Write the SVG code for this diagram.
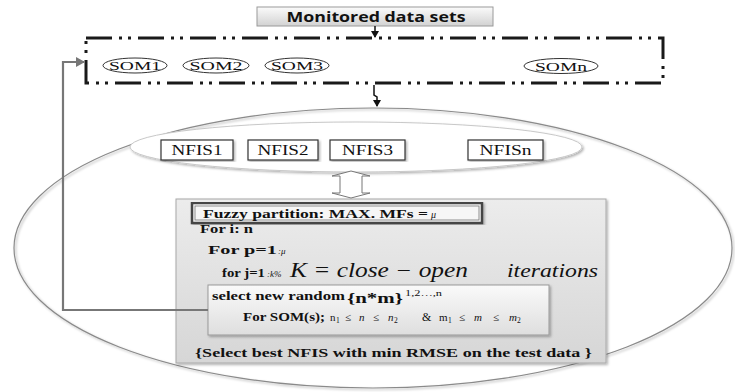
<svg xmlns="http://www.w3.org/2000/svg" width="735" height="392" viewBox="0 0 735 392">
<style>
.serif{fill:#111;font-family:'Liberation Serif','DejaVu Serif','Times New Roman',serif}
.b{font-weight:bold}
.it{font-style:italic}
.som{fill:#fff;stroke:#333;stroke-width:1}
.nfis{fill:#fff;stroke:#333;stroke-width:1.2}
.dash{fill:none;stroke:#1a1a1a;stroke-width:3;stroke-dasharray:26 7 3 6 3 7}
</style>
<defs>
<linearGradient id="gBox" x1="0" y1="0" x2="0" y2="1"><stop offset="0" stop-color="#fbfbfb"/><stop offset="1" stop-color="#d2d2d2"/></linearGradient>
<linearGradient id="gPanel" x1="0" y1="0" x2="0" y2="1"><stop offset="0" stop-color="#ececec"/><stop offset="1" stop-color="#d6d6d6"/></linearGradient>
<linearGradient id="gInner" x1="0" y1="0" x2="0" y2="1"><stop offset="0" stop-color="#fafafa"/><stop offset="1" stop-color="#dedede"/></linearGradient>
<filter id="sh" x="-5%" y="-5%" width="110%" height="115%"><feDropShadow dx="1.5" dy="1.5" stdDeviation="1.2" flood-color="#000" flood-opacity="0.3"/></filter>
<marker id="ah" markerWidth="8" markerHeight="8" refX="6" refY="4" orient="auto" markerUnits="userSpaceOnUse"><path d="M0,0 L7,4 L0,8 Z" fill="#111"/></marker>
<marker id="ahg" markerWidth="10" markerHeight="10" refX="8" refY="5" orient="auto" markerUnits="userSpaceOnUse"><path d="M0,0 L9,5 L0,10 Z" fill="#777"/></marker>
</defs>
<rect width="735" height="392" fill="#fff"/>

<g id="outer-ellipse"><ellipse cx="373" cy="248" rx="359" ry="140" fill="none" stroke="#8a8a8a" stroke-width="1.2" filter="url(#sh)"/></g>

<g id="monitored">
<rect x="257" y="7" width="236" height="19" fill="url(#gBox)" stroke="#9a9a9a" stroke-width="1"/>
<text x="376" y="21.5" text-anchor="middle" font-family="'Open Sans','Liberation Sans',sans-serif" font-weight="bold" font-size="13.5" fill="#111" textLength="179" lengthAdjust="spacingAndGlyphs">Monitored data sets</text>
</g>

<g id="som-box">
<rect x="86" y="38" width="577" height="45" class="dash"/>
</g>
<g id="som1"><ellipse cx="135" cy="65.5" rx="32" ry="7.5" class="som"/><text x="135" y="70" text-anchor="middle" class="serif" font-size="12" textLength="52" lengthAdjust="spacingAndGlyphs">SOM1</text></g>
<g id="som2"><ellipse cx="216" cy="65.5" rx="33" ry="7.5" class="som"/><text x="216" y="70" text-anchor="middle" class="serif" font-size="12" textLength="53" lengthAdjust="spacingAndGlyphs">SOM2</text></g>
<g id="som3"><ellipse cx="297" cy="65.5" rx="32" ry="7.5" class="som"/><text x="297" y="70" text-anchor="middle" class="serif" font-size="12" textLength="52" lengthAdjust="spacingAndGlyphs">SOM3</text></g>
<g id="somn"><ellipse cx="561" cy="66" rx="37" ry="7.5" class="som"/><text x="561" y="70.5" text-anchor="middle" class="serif" font-size="12" textLength="52" lengthAdjust="spacingAndGlyphs">SOMn</text></g>

<g id="nfis-area"><ellipse cx="356" cy="147" rx="226" ry="25" fill="#fff" stroke="#c8c8c8" stroke-width="1" filter="url(#sh)"/></g>
<g id="nfis1"><rect x="161" y="140" width="72" height="20" class="nfis" filter="url(#sh)"/><text x="197" y="154.5" text-anchor="middle" class="serif" font-size="14" textLength="51" lengthAdjust="spacingAndGlyphs">NFIS1</text></g>
<g id="nfis2"><rect x="248" y="140" width="70" height="20" class="nfis" filter="url(#sh)"/><text x="283" y="154.5" text-anchor="middle" class="serif" font-size="14" textLength="51" lengthAdjust="spacingAndGlyphs">NFIS2</text></g>
<g id="nfis3"><rect x="330" y="140" width="75" height="20" class="nfis" filter="url(#sh)"/><text x="367.5" y="154.5" text-anchor="middle" class="serif" font-size="14" textLength="51" lengthAdjust="spacingAndGlyphs">NFIS3</text></g>
<g id="nfisn"><rect x="468" y="140" width="75" height="20" class="nfis" filter="url(#sh)"/><text x="505.5" y="154.5" text-anchor="middle" class="serif" font-size="14" textLength="52" lengthAdjust="spacingAndGlyphs">NFISn</text></g>

<g id="panel">
<rect x="176" y="199" width="430" height="164" fill="url(#gPanel)" stroke="#a8a8a8" stroke-width="1" filter="url(#sh)"/>
<text x="200" y="233" class="serif b" font-size="12.5" textLength="53" lengthAdjust="spacingAndGlyphs">For i: n</text>
<text x="208" y="254" class="serif b" font-size="12.5" textLength="69" lengthAdjust="spacingAndGlyphs">For  p=1</text>
<text x="278" y="254" class="serif it" font-size="9">:μ</text>
<text x="222" y="277" class="serif b" font-size="13" textLength="43" lengthAdjust="spacingAndGlyphs">for j=1</text>
<text x="267" y="277" class="serif it" font-size="9">:k%</text>
<text x="290" y="277" class="serif it" font-size="20" textLength="178" lengthAdjust="spacingAndGlyphs">K = close − open</text>
<text x="507" y="277" class="serif it" font-size="19" textLength="91" lengthAdjust="spacingAndGlyphs">iterations</text>
<text x="195" y="357" class="serif b" font-size="13" textLength="397" lengthAdjust="spacingAndGlyphs">{Select best NFIS with min RMSE on the test data }</text>
</g>

<g id="fuzzy">
<rect x="192" y="203" width="290" height="20" fill="#f6f6f6" stroke="#444" stroke-width="2.5" filter="url(#sh)"/>
<rect x="195" y="206" width="284" height="14" fill="none" stroke="#777" stroke-width="0.8"/>
<text x="203" y="218" class="serif b" font-size="13" textLength="225" lengthAdjust="spacingAndGlyphs">Fuzzy partition: MAX. MFs =</text>
<text x="431" y="218" class="serif it" font-size="10">μ</text>
</g>

<g id="select-box">
<rect x="208" y="285" width="341" height="50" fill="url(#gInner)" stroke="#999" stroke-width="1" filter="url(#sh)"/>
<text x="212" y="300" class="serif b" font-size="12.5" textLength="133" lengthAdjust="spacingAndGlyphs">select new random</text>
<text x="347" y="303" class="serif b" font-size="15" textLength="56" lengthAdjust="spacingAndGlyphs">{n*m}</text>
<text x="405" y="296" class="serif" font-size="8.5" textLength="37" lengthAdjust="spacingAndGlyphs">1,2…,n</text>
<text x="243" y="321" class="serif b" font-size="13" textLength="82" lengthAdjust="spacingAndGlyphs">For SOM(s);</text>
<text y="321" class="serif" font-size="11"><tspan x="330">n</tspan><tspan x="336" y="323" font-size="7.5">1</tspan><tspan x="345" y="321">≤</tspan><tspan x="359" font-style="italic">n</tspan><tspan x="373">≤</tspan><tspan x="388" font-style="italic">n</tspan><tspan x="394" y="323" font-size="7.5">2</tspan></text>
<text x="422" y="321" class="serif" font-size="12">&amp;</text>
<text y="321" class="serif" font-size="11"><tspan x="439">m</tspan><tspan x="448" y="323" font-size="7.5">1</tspan><tspan x="459" y="321">≤</tspan><tspan x="474" font-style="italic">m</tspan><tspan x="493">≤</tspan><tspan x="509" font-style="italic">m</tspan><tspan x="517" y="323" font-size="7.5">2</tspan></text>
</g>

<g id="connectors">
<line x1="375" y1="26" x2="375" y2="37" stroke="#111" stroke-width="1.5" marker-end="url(#ah)"/>
<path d="M374,85 V95 L377,97 V106" fill="none" stroke="#111" stroke-width="1.5" marker-end="url(#ah)"/>
<polygon points="351,171 370,176 362,176 362,193 370,193 351,198 332,193 340,193 340,176 332,176" fill="#fff" stroke="#777" stroke-width="1"/>
<polyline points="208,310 63,310 63,62 84,62" fill="none" stroke="#777" stroke-width="2.2" marker-end="url(#ahg)"/>
</g>
</svg>
